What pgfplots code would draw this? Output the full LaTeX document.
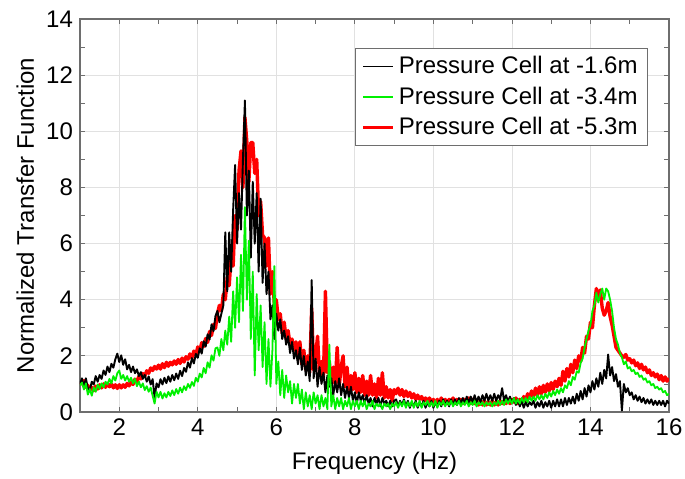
\documentclass[border=0pt]{standalone}
\usepackage{fontspec}
\setmainfont{Liberation Sans}
\usepackage{pgfplots}
\usepackage{pgfplotstable}
\pgfplotsset{compat=1.18}
\definecolor{cgreen}{RGB}{0,240,0}
\definecolor{cred}{RGB}{255,0,0}
\definecolor{frame}{RGB}{110,110,110}
\definecolor{gridc}{RGB}{225,225,225}
\pgfplotstableread{
f k g r
1.00 1.00 0.95 1.05
1.05 1.20 1.05 1.00
1.10 0.90 0.80 1.12
1.15 1.20 1.02 0.88
1.20 0.85 0.62 0.95
1.25 0.78 0.82 0.78
1.30 1.08 0.58 0.88
1.35 0.98 0.88 0.76
1.40 1.28 0.72 0.92
1.45 1.08 0.98 0.82
1.50 1.32 0.82 0.97
1.55 1.18 1.02 0.86
1.60 1.48 0.88 1.00
1.65 1.32 1.08 0.88
1.70 1.62 0.98 1.02
1.75 1.42 1.18 0.90
1.80 1.72 1.02 1.00
1.85 1.58 1.28 0.86
1.90 1.88 1.12 0.97
1.95 2.08 1.38 0.84
2.00 1.78 1.48 0.97
2.05 2.02 1.18 0.86
2.10 1.68 1.32 0.97
2.15 1.88 1.12 0.88
2.20 1.52 1.28 1.02
2.25 1.68 1.08 0.93
2.30 1.42 1.22 1.07
2.35 1.62 1.02 0.98
2.40 1.38 1.18 1.17
2.45 1.52 0.92 1.08
2.50 1.28 1.08 1.27
2.55 1.42 0.88 1.18
2.60 1.18 1.02 1.37
2.65 1.32 0.78 1.28
2.70 1.08 0.92 1.47
2.75 1.27 0.72 1.38
2.80 0.98 0.87 1.57
2.85 1.17 0.58 1.48
2.90 0.50 0.30 1.62
2.95 1.02 0.72 1.53
3.00 0.88 0.52 1.67
3.05 1.17 0.72 1.53
3.10 0.98 0.48 1.72
3.15 1.22 0.67 1.58
3.20 1.03 0.52 1.77
3.25 1.27 0.72 1.63
3.30 1.08 0.57 1.77
3.35 1.32 0.77 1.68
3.40 1.13 0.60 1.82
3.45 1.37 0.82 1.70
3.50 1.18 0.65 1.87
3.55 1.47 0.87 1.73
3.60 1.28 0.70 1.92
3.65 1.57 0.92 1.78
3.70 1.43 0.78 1.97
3.75 1.77 1.00 1.88
3.80 1.58 0.86 2.07
3.85 1.92 1.07 1.93
3.90 1.73 0.93 2.17
3.95 2.07 1.22 2.03
4.00 1.93 1.08 2.32
4.05 2.27 1.37 2.18
4.10 2.08 1.23 2.47
4.15 2.52 1.57 2.33
4.20 2.33 1.38 2.62
4.25 2.77 1.77 2.48
4.30 2.58 1.58 2.87
4.35 3.12 2.02 2.73
4.40 2.88 1.83 3.12
4.45 3.42 2.27 2.98
4.50 3.60 2.30 3.50
4.55 3.20 2.00 3.80
4.60 3.50 2.60 3.60
4.65 3.80 2.20 4.20
4.70 6.40 2.90 4.00
4.75 4.30 2.40 4.80
4.80 6.40 3.40 4.50
4.85 5.00 2.50 5.60
4.90 7.20 4.30 5.20
4.95 8.80 3.00 7.00
5.00 6.00 4.80 6.50
5.05 7.80 3.20 8.60
5.10 6.50 5.60 9.30
5.15 9.00 3.60 8.00
5.20 11.10 7.30 10.50
5.25 7.00 4.00 9.60
5.30 8.60 6.10 8.20
5.35 5.50 2.60 9.60
5.40 8.20 5.00 9.60
5.45 6.00 1.30 8.50
5.50 7.80 4.20 9.00
5.55 5.00 2.20 7.00
5.60 7.60 3.80 7.50
5.65 4.60 1.60 6.30
5.70 6.00 3.20 6.20
5.75 4.20 1.00 5.20
5.80 5.00 2.60 6.20
5.85 3.30 0.90 4.20
5.90 3.80 2.20 5.00
5.95 2.60 5.20 3.80
6.00 3.50 1.00 4.00
6.05 2.90 1.80 3.30
6.10 3.30 0.60 3.50
6.15 2.60 1.50 2.80
6.20 2.90 0.50 3.20
6.25 2.40 1.30 2.60
6.30 2.70 0.70 2.90
6.35 2.10 1.10 2.40
6.40 2.50 0.30 2.60
6.45 1.90 1.00 2.20
6.50 2.20 0.50 2.50
6.55 1.70 1.00 1.90
6.60 2.30 0.30 2.50
6.65 1.50 0.80 1.70
6.70 2.00 0.10 2.20
6.75 1.30 0.70 1.50
6.80 1.80 0.20 2.00
6.85 1.10 0.60 1.40
6.90 4.70 0.10 3.70
6.95 1.20 0.70 1.50
7.00 1.90 0.30 2.00
7.05 0.90 0.60 2.70
7.10 1.60 0.10 1.30
7.15 1.00 0.60 1.80
7.20 1.40 0.20 1.20
7.25 0.70 0.50 4.30
7.30 1.30 0.10 1.40
7.35 0.90 2.40 1.80
7.40 1.20 0.20 1.00
7.45 0.60 0.60 1.60
7.50 1.10 0.10 1.00
7.55 0.70 0.50 2.30
7.60 1.20 0.20 0.90
7.65 0.60 0.50 1.60
7.70 1.00 0.10 2.00
7.75 0.50 0.40 0.90
7.80 0.90 0.20 1.60
7.85 0.50 0.50 0.80
7.90 0.90 0.10 1.30
7.95 0.40 0.40 0.80
8.00 0.70 0.20 1.40
8.05 0.30 0.40 0.70
8.10 0.70 0.10 1.20
8.15 0.40 0.40 0.70
8.20 0.60 0.20 1.30
8.25 0.30 0.40 0.60
8.30 0.60 0.10 1.10
8.35 0.30 0.30 0.60
8.40 0.50 0.20 1.30
8.45 0.20 0.40 0.60
8.50 0.50 0.10 1.00
8.55 0.30 0.30 0.50
8.60 0.50 0.20 1.20
8.65 0.20 0.30 0.60
8.70 0.50 0.10 1.40
8.75 0.30 0.30 0.50
8.80 0.40 0.20 0.90
8.85 0.20 0.30 0.50
8.90 0.40 0.10 0.80
8.95 0.20 0.30 0.40
9.00 0.40 0.20 0.80
9.05 0.45 0.35 0.65
9.10 0.20 0.15 0.85
9.15 0.40 0.35 0.60
9.20 0.25 0.20 0.80
9.25 0.45 0.40 0.55
9.30 0.20 0.15 0.75
9.35 0.40 0.35 0.55
9.40 0.15 0.20 0.70
9.45 0.35 0.40 0.50
9.50 0.20 0.15 0.65
9.55 0.40 0.35 0.45
9.60 0.15 0.20 0.60
9.65 0.35 0.40 0.45
9.70 0.20 0.15 0.55
9.75 0.40 0.35 0.40
9.80 0.15 0.25 0.50
9.85 0.35 0.40 0.35
9.90 0.20 0.20 0.50
9.95 0.40 0.35 0.35
10.00 0.15 0.20 0.45
10.05 0.35 0.40 0.30
10.10 0.20 0.15 0.45
10.15 0.40 0.35 0.30
10.20 0.20 0.25 0.50
10.25 0.45 0.40 0.30
10.30 0.25 0.20 0.45
10.35 0.40 0.35 0.30
10.40 0.20 0.25 0.45
10.45 0.45 0.40 0.35
10.50 0.25 0.20 0.50
10.55 0.45 0.35 0.30
10.60 0.25 0.25 0.45
10.65 0.50 0.40 0.35
10.70 0.30 0.20 0.45
10.75 0.50 0.35 0.30
10.80 0.30 0.25 0.45
10.85 0.55 0.40 0.35
10.90 0.30 0.20 0.50
10.95 0.55 0.35 0.30
11.00 0.35 0.25 0.45
11.05 0.60 0.40 0.30
11.10 0.35 0.20 0.40
11.15 0.55 0.35 0.25
11.20 0.35 0.25 0.40
11.25 0.60 0.35 0.25
11.30 0.40 0.20 0.40
11.35 0.65 0.35 0.25
11.40 0.40 0.25 0.35
11.45 0.60 0.35 0.25
11.50 0.40 0.20 0.40
11.55 0.65 0.35 0.25
11.60 0.40 0.25 0.35
11.65 0.60 0.40 0.25
11.70 0.45 0.25 0.40
11.75 0.85 0.40 0.30
11.80 0.40 0.25 0.40
11.85 0.60 0.45 0.30
11.90 0.35 0.30 0.45
11.95 0.55 0.45 0.30
12.00 0.30 0.30 0.45
12.05 0.50 0.50 0.35
12.10 0.25 0.30 0.50
12.15 0.45 0.45 0.30
12.20 0.20 0.30 0.45
12.25 0.40 0.50 0.35
12.30 0.15 0.35 0.55
12.35 0.35 0.50 0.40
12.40 0.20 0.35 0.65
12.45 0.35 0.55 0.50
12.50 0.25 0.40 0.75
12.55 0.40 0.55 0.55
12.60 0.15 0.40 0.85
12.65 0.35 0.60 0.60
12.70 0.20 0.45 0.90
12.75 0.40 0.60 0.65
12.80 0.15 0.45 0.95
12.85 0.35 0.65 0.70
12.90 0.20 0.50 1.00
12.95 0.40 0.70 0.75
13.00 0.15 0.55 1.05
13.05 0.40 0.75 0.80
13.10 0.20 0.60 1.10
13.15 0.45 0.80 0.90
13.20 0.20 0.65 1.20
13.25 0.45 0.85 0.95
13.30 0.20 0.70 1.45
13.35 0.50 0.95 1.10
13.40 0.25 0.85 1.55
13.45 0.50 1.10 1.25
13.50 0.30 0.95 1.70
13.55 0.55 1.25 1.40
13.60 0.30 1.15 1.85
13.65 0.65 1.45 1.55
13.70 0.40 1.40 2.00
13.75 0.75 1.75 1.80
13.80 0.45 1.90 2.30
13.85 0.85 2.30 2.10
13.90 0.55 2.60 2.70
13.95 0.95 2.90 2.60
14.00 0.70 3.10 3.20
14.05 1.10 3.60 3.00
14.10 0.80 3.80 3.80
14.15 1.20 4.25 4.40
14.20 0.90 3.90 4.00
14.25 1.40 4.20 4.35
14.30 1.00 4.40 3.70
14.35 1.50 4.00 3.45
14.40 1.20 4.40 3.60
14.45 2.05 4.30 3.90
14.50 1.30 4.00 3.40
14.55 1.60 3.60 3.10
14.60 1.10 3.00 2.70
14.65 1.35 2.60 2.30
14.70 0.90 2.40 2.20
14.75 1.10 2.10 2.10
14.80 0.05 1.95 2.00
14.85 1.00 1.70 1.95
14.90 0.70 1.80 2.05
14.95 0.85 1.55 1.85
15.00 0.60 1.60 1.90
15.05 0.70 1.45 1.75
15.10 0.45 1.50 1.85
15.15 0.60 1.35 1.65
15.20 0.40 1.40 1.75
15.25 0.55 1.25 1.55
15.30 0.35 1.30 1.70
15.35 0.50 1.15 1.50
15.40 0.30 1.20 1.60
15.45 0.45 1.05 1.40
15.50 0.30 1.10 1.50
15.55 0.45 0.95 1.30
15.60 0.25 1.00 1.40
15.65 0.40 0.85 1.25
15.70 0.25 0.90 1.35
15.75 0.40 0.80 1.15
15.80 0.25 0.85 1.30
15.85 0.40 0.70 1.10
15.90 0.20 0.75 1.25
15.95 0.40 0.60 1.10
16.00 0.30 0.65 1.20
}\data
\begin{document}
\begin{tikzpicture}
\begin{axis}[
  scale only axis,
  width=294.5pt, height=196.5pt,
  xmin=1, xmax=16, ymin=0, ymax=14,
  xtick={2,4,...,16}, minor xtick={1,3,...,15},
  ytick={0,2,...,14}, minor ytick={1,3,...,13},
  tick align=inside,
  major tick length=2.6pt, minor tick length=2.6pt,
  every tick/.style={frame, line width=0.4pt},
  axis line style={frame, line width=0.6pt},
  grid=major,
  major grid style={gridc, line width=0.4pt},
  /pgf/number format/assume math mode=true,
  tick label style={font=\large},
  label style={font=\large},
  xlabel={Frequency (Hz)},
  ylabel={Normalized Transfer Function},
  xlabel style={at={(axis description cs:0.5,-0.13)}, anchor=center},
  ylabel style={at={(axis description cs:-0.093,0.5)}, anchor=center, rotate=0},
  legend style={at={(0.9643,0.9262)}, anchor=north east, draw=frame, font=\large,
    inner xsep=3pt, inner ysep=2pt, row sep=1pt},
  legend cell align=left,
  legend image code/.code={\draw[#1] (0pt,0pt) -- (15pt,0pt);},
]
\addlegendimage{black, line width=0.8pt}
\addlegendentry{Pressure Cell at -1.6m}
\addlegendimage{cgreen, line width=0.8pt}
\addlegendentry{Pressure Cell at -3.4m}
\addlegendimage{cred, line width=1.8pt}
\addlegendentry{Pressure Cell at -5.3m}
\addplot[cred, line width=1.7pt, line join=round, forget plot] table[x=f, y=r] {\data};
\addplot[black, line width=0.95pt, line join=round, forget plot] table[x=f, y=k] {\data};
\addplot[cgreen, line width=0.9pt, line join=round, forget plot] table[x=f, y=g] {\data};
\end{axis}
\pgfresetboundingbox
\path[use as bounding box] ([shift={(-40pt,-33pt)}]current axis.south west) rectangle ([shift={(8pt,9.5pt)}]current axis.north east);
\end{tikzpicture}
\end{document}
